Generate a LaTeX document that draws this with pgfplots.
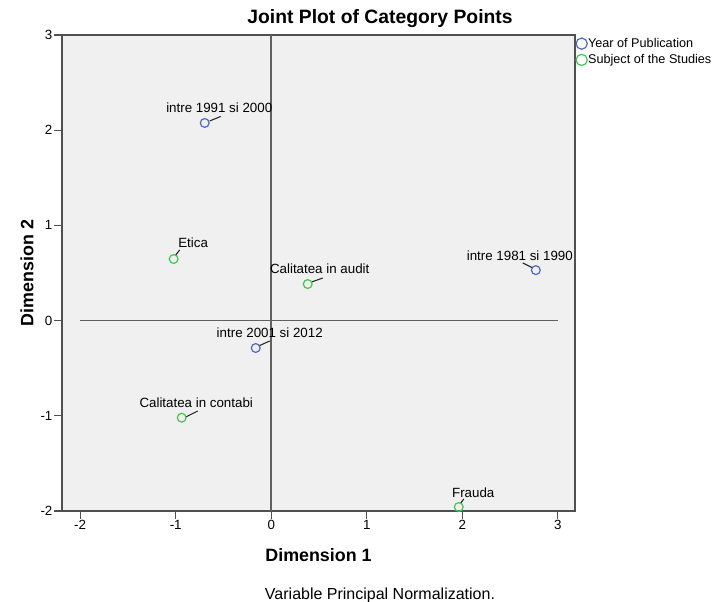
\documentclass[border=0pt]{standalone}
\usepackage{pgfplots}
\pgfplotsset{compat=1.18}
\usepackage{pgfplotstable}
\usepackage{fontspec}
\setmainfont{Liberation Sans}
\definecolor{bgc}{HTML}{F0F0F0}
\definecolor{axc}{HTML}{505050}
\definecolor{refc}{HTML}{606060}
\definecolor{bluec}{HTML}{5068C0}
\definecolor{greenc}{HTML}{44C456}

\pgfplotstableread[col sep=comma]{
x,y,dx,dy,label
-0.696,2.076,10.9,11.25,intre 1991 si 2000
2.770,0.530,-12,10.5,intre 1981 si 1990
-0.162,-0.288,10.5,11.25,intre 2001 si 2012
}\yeartab

\pgfplotstableread[col sep=comma]{
x,y,dx,dy,label
-1.021,0.647,14.6,12,Etica
0.382,0.384,9,11.25,Calitatea in audit
-0.937,-1.020,10.9,11.25,Calitatea in contabi
1.963,-1.958,10.9,10.5,Frauda
}\subjtab

\begin{document}
\begin{tikzpicture}
\path[use as bounding box] (-46.5pt,-68.25pt) rectangle (494.25pt,383.25pt);
\begin{axis}[
  at={(0pt,0pt)}, anchor=south west,
  scale only axis,
  width=384.75pt, height=357pt,
  xmin=-2.19, xmax=3.18, ymin=-2, ymax=3,
  xtick={-2,-1,0,1,2,3}, ytick={-2,-1,0,1,2,3},
  xtick pos=bottom, ytick pos=left,
  tick align=outside, major tick length=6pt,
  tick style={color=axc, line width=0.9pt},
  axis line style={color=axc, line width=1.1pt},
  axis background/.style={fill=bgc},
  /pgf/number format/assume math mode=true,
  ticklabel style={font=\fontsize{10}{12}\selectfont, inner sep=1pt},
  xlabel={Dimension 1},
  ylabel={Dimension 2},
  xlabel style={font=\bfseries\fontsize{13.4}{16}\selectfont, at={(axis description cs:0.5,-0.0924)}, anchor=center},
  ylabel style={font=\bfseries\fontsize{13.4}{16}\selectfont, at={(axis description cs:-0.0682,0.5)}, anchor=center},
  legend style={at={(1,1)}, anchor=north west, xshift=0.6pt, yshift=-1.5pt, draw=none, fill=none, inner sep=0pt,
    font=\fontsize{9.5}{11}\selectfont, row sep=2.6pt, nodes={inner sep=0.6pt},
    /tikz/every even column/.append style={column sep=2.8pt}},
  legend cell align=left,
  legend image code/.code={\draw[#1,/tikz/only marks] plot coordinates {(0pt,0pt)};},
  clip=false
]
\addplot[refc, line width=1.2pt, forget plot] coordinates {(0,-2) (0,3)};
\addplot[refc, line width=1.3pt, forget plot] coordinates {(-2,0) (3,0)};

\addplot[black!85, line width=0.8pt, unbounded coords=jump, forget plot] coordinates {
(-0.644,2.097) (-0.529,2.144) (nan,nan)
(2.738,0.553) (2.634,0.605) (nan,nan)
(-0.131,-0.267) (-0.016,-0.214) (nan,nan)
(-1.0,0.689) (-0.958,0.742) (nan,nan)
(0.424,0.406) (0.539,0.447) (nan,nan)
(-0.895,-1.013) (-0.770,-0.950) (nan,nan)
(1.984,-1.916) (2.016,-1.874)
};

\addplot[only marks, mark=o, mark size=3.3pt, color=bluec, line width=0.9pt, forget plot,
  nodes near coords, point meta=explicit symbolic,
  visualization depends on={\thisrow{dx}\as\lx},
  visualization depends on={\thisrow{dy}\as\ly},
  every node near coord/.append style={text=black, font=\fontsize{10}{12}\selectfont, anchor=center, inner sep=0pt, xshift=\lx pt, yshift=\ly pt}]
  table[x=x, y=y, meta=label] {\yeartab};

\addplot[only marks, mark=o, mark size=3.3pt, color=greenc, line width=0.9pt, forget plot,
  nodes near coords, point meta=explicit symbolic,
  visualization depends on={\thisrow{dx}\as\lx},
  visualization depends on={\thisrow{dy}\as\ly},
  every node near coord/.append style={text=black, font=\fontsize{10}{12}\selectfont, anchor=center, inner sep=0pt, xshift=\lx pt, yshift=\ly pt}]
  table[x=x, y=y, meta=label] {\subjtab};

\addlegendimage{only marks, mark=o, mark size=4.2pt, color=bluec, line width=0.9pt}
\addlegendentry{Year of Publication}
\addlegendimage{only marks, mark=o, mark size=4.2pt, color=greenc, line width=0.9pt}
\addlegendentry{Subject of the Studies}
\end{axis}
\node[font=\bfseries\fontsize{14.5}{17}\selectfont] at (238.5pt,369pt) {Joint Plot of Category Points};
\node[font=\fontsize{12}{14}\selectfont, anchor=base, inner sep=0pt] at (238.5pt,-66.75pt) {Variable Principal Normalization.};
\end{tikzpicture}
\end{document}
